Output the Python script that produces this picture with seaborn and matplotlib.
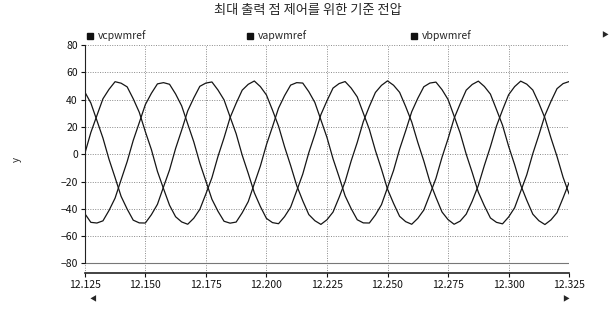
import numpy as np
import pandas as pd
import matplotlib
matplotlib.use("Agg")
import matplotlib.pyplot as plt
from matplotlib.lines import Line2D
import seaborn as sns

# sampled window (seconds)
t_start, t_end = 12.125, 12.325

# reference voltages, one sample every 2.5 ms
va = [0.4, 15.9, 28.3, 40.6, 47.5, 53.1, 52.0, 49.3, 40.6, 30.7,
      16.5, 3.4, -12.6, -25.2, -37.4, -45.8, -49.6, -51.3, -46.9, -40.4,
      -29.1, -17.2, -1.6, 12.0, 26.8, 37.3, 46.9, 51.2, 53.6, 49.5,
      43.4, 32.3, 20.6, 5.4, -8.3, -22.9, -34.1, -44.2, -48.7, -51.4,
      -48.0, -42.4, -31.7, -20.1, -4.9, 8.6, 23.8, 35.0, 45.2, 50.4,
      53.7, 50.5, 45.3, 34.9, 23.6, 8.7, -5.0, -20.2, -31.6, -42.3,
      -47.9, -51.3, -49.0, -43.9, -34.3, -22.9, -8.2, 5.5, 20.6, 32.4,
      43.5, 49.5, 53.5, 51.3, 47.0, 37.4, 26.5, 11.9, -1.7, -16.9,
      -29.2]
vc = [45.6, 37.5, 24.7, 11.8, -3.7, -17.1, -30.9, -40.2, -48.3, -50.3,
      -50.4, -44.3, -36.7, -24.0, -11.5, 4.2, 17.6, 31.7, 41.2, 49.7,
      52.1, 52.9, 47.0, 39.8, 27.3, 15.0, -0.7, -14.1, -28.2, -38.3,
      -47.0, -50.1, -50.9, -45.7, -38.8, -26.8, -14.6, 1.1, 14.5, 29.0,
      39.1, 48.4, 51.7, 53.2, 48.4, 42.0, 30.1, 18.2, 2.7, -10.9,
      -25.6, -36.0, -45.5, -49.4, -51.3, -47.0, -40.9, -29.5, -17.7, -2.3,
      11.3, 26.2, 36.9, 46.9, 51.1, 53.5, 49.6, 44.0, 32.7, 21.2,
      5.9, -7.7, -22.6, -33.7, -43.9, -48.7, -51.5, -48.1, -42.8, -32.0,
      -20.7]
vb = [-43.5, -49.9, -50.4, -48.8, -41.2, -32.2, -18.7, -5.4, 10.1, 23.1,
      36.3, 44.6, 51.5, 52.4, 51.2, 44.1, 35.4, 22.2, 9.1, -6.5,
      -19.7, -33.0, -41.8, -49.1, -50.5, -49.7, -42.9, -34.7, -21.6, -8.7,
      6.9, 20.1, 33.7, 42.9, 50.6, 52.4, 52.1, 45.8, 37.9, 25.1,
      12.3, -3.3, -16.6, -30.5, -39.9, -48.0, -50.3, -50.4, -44.5, -37.0,
      -24.5, -11.9, 3.7, 17.1, 31.1, 40.9, 49.4, 52.1, 52.8, 47.3,
      40.1, 27.9, 15.5, 0.0, -13.5, -27.8, -37.8, -46.7, -49.9, -51.0,
      -46.0, -39.2, -27.2, -15.1, 0.4, 14.0, 28.4, 38.7, 48.0, 51.7,
      53.2]

series_names = ["vcpwmref", "vapwmref", "vbpwmref"]
x_ticks = [12.125, 12.150, 12.175, 12.200, 12.225, 12.250, 12.275, 12.300, 12.325]
y_ticks = [-80, -60, -40, -20, 0, 20, 40, 60, 80]
title = "최대 출력 점 제어를 위한 기준 전압"

# sample instants of the logged signal
time = np.linspace(t_start, t_end, len(va))
df = pd.DataFrame({
    "time": np.tile(time, 3),
    "value": vc + va + vb,
    "series": np.repeat(series_names, len(va)),
})

sns.set_style("white")
plt.rcParams["font.family"] = ["Noto Sans CJK KR", "DejaVu Sans"]

fig = plt.figure(figsize=(6.1, 3.09), dpi=100)
ax = fig.add_axes([0.139, 0.1165, 0.794, 0.738])

sns.lineplot(data=df, x="time", y="value", hue="series", estimator=None,
             palette=["#151515"] * 3, linewidth=0.9, legend=False, ax=ax)

ax.set_xlim(t_start, t_end)
ax.set_ylim(-87, 80)
ax.set_xticks(x_ticks)
ax.set_xticklabels([f"{v:.3f}" for v in x_ticks])
ax.set_yticks(y_ticks)
ax.set_xlabel("")
ax.set_ylabel("y", fontsize=7, labelpad=28)
ax.grid(True, linestyle=(0, (1, 1.5)), color="#8a8a8a", linewidth=0.7)
ax.axhline(-80, color="#777777", linewidth=0.8)
ax.tick_params(bottom=True, left=True, length=3, width=0.8, labelsize=7.5,
               colors="#111111", pad=2)
for side in ["top", "right"]:
    ax.spines[side].set_visible(False)
ax.spines["left"].set_bounds(-80, 80)
ax.spines["left"].set_color("#222222")
ax.spines["bottom"].set_color("#222222")
ax.spines["bottom"].set_linewidth(1.2)

fig.text(0.505, 0.965, title, ha="center", va="center", fontsize=9.5)

# one legend entry per series, spread along the top strip
legend_x = [86, 246, 410]
for name, xpix in zip(series_names, legend_x):
    h = Line2D([], [], linestyle="none", marker="s", markersize=4, color="#111111")
    fig.legend([h], [name], loc="center left",
               bbox_to_anchor=(xpix / 610, 1 - 36 / 309), frameon=False,
               fontsize=7.5, handletextpad=0.3, borderaxespad=0, borderpad=0,
               handlelength=0.8)

fig.text(0.152, 0.03, "◀", fontsize=5, ha="center", va="center")
fig.text(0.928, 0.03, "▶", fontsize=5, ha="center", va="center")
fig.text(0.992, 0.887, "▶", fontsize=5, ha="center", va="center")

fig.savefig("out.png", dpi=100)
